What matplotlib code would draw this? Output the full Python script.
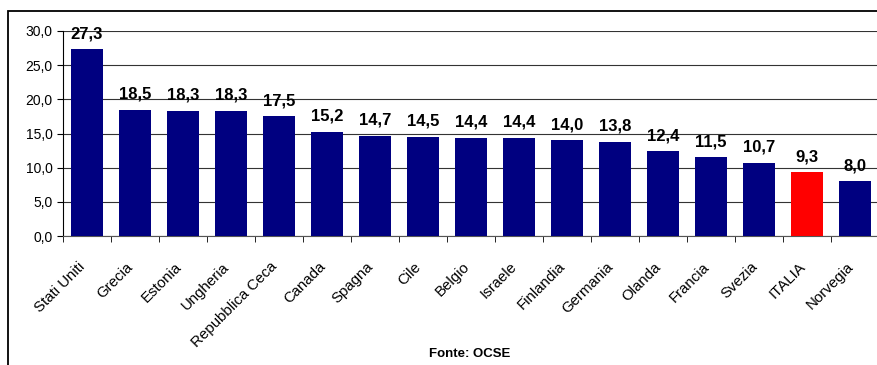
import numpy as np
import matplotlib.pyplot as plt
import matplotlib.transforms as mtransforms
from matplotlib.patches import Rectangle

plt.rcParams['font.family'] = ['Liberation Sans', 'DejaVu Sans']

# dati
paesi = ['Stati Uniti', 'Grecia', 'Estonia', 'Ungheria', 'Repubblica Ceca', 'Canada',
         'Spagna', 'Cile', 'Belgio', 'Israele', 'Finlandia', 'Germania', 'Olanda',
         'Francia', 'Svezia', 'ITALIA', 'Norvegia']
valori = [27.3, 18.5, 18.3, 18.3, 17.5, 15.2, 14.7, 14.5, 14.4, 14.4, 14.0, 13.8,
          12.4, 11.5, 10.7, 9.3, 8.0]
yticks = [0, 5, 10, 15, 20, 25, 30]

colori = ['#ff0000' if p == 'ITALIA' else '#000080' for p in paesi]

fig = plt.figure(figsize=(8.77, 3.65), dpi=100)
# cornice esterna
fig.patches.append(Rectangle((8/877, -0.1), 1.2, (365-11)/365 + 0.1, transform=fig.transFigure,
                             fill=False, edgecolor='black', linewidth=1.3))

ax = fig.add_axes([63/877, 129/365, 816/877, 205/365])
x = np.arange(len(paesi))
ax.bar(x, valori, width=0.68, color=colori, zorder=3)

for xi, v in zip(x, valori):
    ax.text(xi, v + 1.2, f'{v:.1f}'.replace('.', ','), ha='center', va='bottom',
            fontsize=12, fontweight='bold', zorder=4)

ax.set_xlim(-0.5, len(paesi) - 0.5)
ax.set_ylim(0, 30)
ax.set_yticks(yticks)
ax.set_yticklabels([f'{t:.1f}'.replace('.', ',') for t in yticks], fontsize=10)
ax.yaxis.grid(True, color='#333333', linewidth=0.8, zorder=0)

ax.set_xticks(x)
ax.set_xticklabels(paesi, rotation=45, ha='right', rotation_mode='anchor', fontsize=10.8)
ax.tick_params(axis='x', length=0, pad=17)
# spostamento a sinistra delle etichette
shift = mtransforms.ScaledTranslation(-9/100, 0, fig.dpi_scale_trans)
for lab in ax.get_xticklabels():
    lab.set_transform(lab.get_transform() + shift)
ax.set_xticks(np.arange(-0.5, len(paesi), 1), minor=True)
ax.tick_params(axis='x', which='minor', length=4, color='black')
ax.tick_params(axis='y', length=4, color='black')

ax.spines['top'].set_visible(False)
ax.spines['right'].set_visible(False)
ax.spines['left'].set_color('black')
ax.spines['bottom'].set_color('#555555')

fig.text(470/877, 1 - 354/365, 'Fonte: OCSE', ha='center', va='center',
         fontsize=9.5, fontweight='bold')

plt.savefig('out.png', dpi=100)
